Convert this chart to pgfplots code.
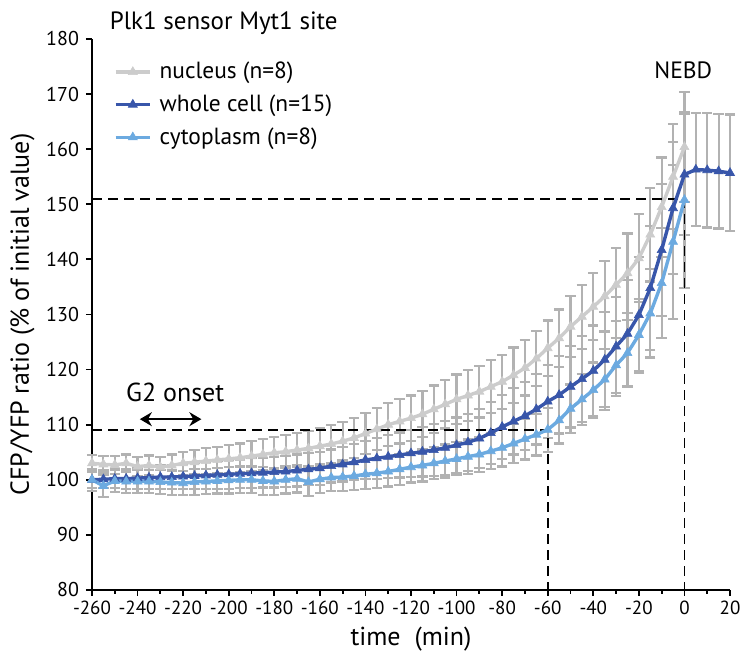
\documentclass[border=0pt]{standalone}
\usepackage{pgfplots}
\pgfplotsset{compat=1.18}
\usepackage{pgfplotstable}
\usepackage{fontspec}
\setmainfont{PT Sans}
\usetikzlibrary{arrows.meta}
\definecolor{nuc}{RGB}{204,204,204}
\definecolor{whole}{RGB}{56,86,170}
\definecolor{cyto}{RGB}{108,170,224}
\definecolor{errg}{RGB}{178,178,178}

\pgfplotstableread{
t y e
-260 103.0 1.5
-255 102.8 1.5
-250 102.7 1.6
-245 103.0 1.6
-240 102.4 1.7
-235 102.6 1.8
-230 102.3 1.9
-225 102.6 2.0
-220 103.0 2.1
-215 103.2 2.2
-210 103.4 2.3
-205 103.6 2.4
-200 103.8 2.5
-195 104.0 2.6
-190 104.3 2.7
-185 104.6 2.8
-180 104.9 2.9
-175 105.1 3.0
-170 105.4 3.1
-165 105.7 3.2
-160 106.1 3.3
-155 106.5 3.4
-150 107.0 3.5
-145 107.6 3.6
-140 108.4 3.7
-135 109.2 3.8
-130 110.0 3.9
-125 110.6 4.0
-120 111.2 4.1
-115 111.9 4.2
-110 112.8 4.3
-105 113.7 4.4
-100 114.6 4.5
-95 115.3 4.6
-90 116.0 4.7
-85 116.9 4.8
-80 117.8 4.9
-75 119.0 5.0
-70 120.3 5.0
-65 122.0 5.0
-60 123.9 5.0
-55 125.7 5.2
-50 127.8 5.5
-45 129.6 5.8
-40 131.4 6.1
-35 133.3 6.4
-30 135.4 6.6
-25 137.5 7.2
-20 140.2 8.0
-15 144.5 8.5
-10 149.5 9.0
-5 155.0 9.5
0 160.4 10.0
}\nucleus

\pgfplotstableread{
t y e
-260 100.0 1.5
-255 100.1 1.6
-250 100.2 1.7
-245 100.2 1.8
-240 100.3 1.9
-235 100.4 2.0
-230 100.5 2.1
-225 100.5 2.2
-220 100.6 2.3
-215 100.7 2.4
-210 100.8 2.5
-205 100.9 2.5
-200 101.0 2.6
-195 101.1 2.6
-190 101.2 2.7
-185 101.3 2.7
-180 101.4 2.8
-175 101.5 2.8
-170 101.7 2.9
-165 101.9 2.9
-160 102.1 3.0
-155 102.5 3.0
-150 102.8 3.1
-145 103.2 3.3
-140 103.6 3.5
-135 103.9 3.7
-130 104.2 3.9
-125 104.5 4.1
-120 104.8 4.3
-115 105.1 4.5
-110 105.4 4.7
-105 105.8 4.9
-100 106.3 5.0
-95 106.8 5.2
-90 107.5 5.4
-85 108.5 5.6
-80 109.6 5.8
-75 110.6 6.0
-70 111.6 6.2
-65 112.8 6.4
-60 114.2 6.6
-55 115.4 7.0
-50 116.9 7.4
-45 118.3 7.8
-40 119.8 8.2
-35 121.8 8.6
-30 124.2 9.0
-25 126.5 9.7
-20 129.9 10.5
-15 134.8 11.2
-10 141.7 12.0
-5 149.3 12.0
0 155.4 11.0
5 156.3 10.3
10 156.2 10.4
15 156.0 10.4
20 155.7 10.6
}\whole

\pgfplotstableread{
t y e
-260 100.0 2.0
-255 98.9 2.0
-250 99.8 2.0
-245 99.7 2.1
-240 99.7 2.1
-235 99.7 2.1
-230 99.6 2.2
-225 99.5 2.2
-220 99.4 2.2
-215 99.6 2.3
-210 99.7 2.3
-205 99.8 2.3
-200 99.9 2.4
-195 100.0 2.4
-190 100.0 2.4
-185 99.8 2.5
-180 99.7 2.5
-175 100.0 2.5
-170 100.2 2.5
-165 99.6 2.5
-160 100.1 2.5
-155 100.4 2.5
-150 100.5 2.5
-145 100.7 2.6
-140 101.0 2.6
-135 101.2 2.7
-130 101.5 2.7
-125 101.9 2.8
-120 102.3 2.8
-115 102.6 2.9
-110 103.0 2.9
-105 103.4 3.0
-100 103.8 3.0
-95 104.2 3.1
-90 104.6 3.2
-85 105.2 3.3
-80 105.8 3.4
-75 106.6 3.5
-70 107.4 3.7
-65 108.2 3.8
-60 109.1 4.0
-55 110.8 4.2
-50 112.9 4.4
-45 114.6 4.6
-40 116.3 5.0
-35 118.2 5.5
-30 120.8 5.0
-25 123.0 6.0
-20 126.3 6.5
-15 130.2 8.0
-10 135.7 10.0
-5 143.2 14.0
0 150.8 16.0
}\cyto

\begin{document}
\begin{tikzpicture}
\begin{axis}[
  scale only axis,
  width=319pt, height=275.5pt,
  xmin=-260, xmax=20, ymin=80, ymax=180,
  xtick={-260,-240,...,20},
  ytick={80,90,...,180},
  minor x tick num=1,
  axis x line*=bottom, axis y line*=left,
  xtick pos=lower, ytick pos=lower,
  tick align=outside,
  major tick length=3pt, minor tick length=2pt,
  every tick/.style={black, line width=0.9pt},
  axis line style={black, line width=0.9pt},
  /pgf/number format/assume math mode=true,
  x tick label style={font=\fontsize{9.5}{10}\selectfont, yshift=1pt},
  y tick label style={font=\fontsize{10}{12}\selectfont},
  xlabel={time\ \ (min)},
  ylabel={CFP/YFP ratio (\% of initial value)},
  label style={font=\fontsize{13}{15}\selectfont},
  xlabel style={yshift=1pt},
  ylabel style={yshift=-1pt},
  clip=false,
  legend style={draw=none, fill=none, at={(axis cs:-250.5,176.6)}, anchor=north west,
    font=\fontsize{11.7}{13}\selectfont, row sep=2.5pt, inner sep=0pt,
    nodes={inner xsep=4pt}},
  legend cell align=left,
]
% error bars first (below the lines)
\addplot[forget plot, draw=none, mark=none,
  error bars/.cd, y dir=both, y explicit,
  error bar style={draw=errg, line width=1.1pt},
  error mark options={rotate=90, mark size=2.6pt, draw=errg, line width=1.1pt}]
  table[x=t, y=y, y error=e] {\nucleus};
\addplot[forget plot, draw=none, mark=none,
  error bars/.cd, y dir=both, y explicit,
  error bar style={draw=errg, line width=1.1pt},
  error mark options={rotate=90, mark size=2.6pt, draw=errg, line width=1.1pt}]
  table[x=t, y=y, y error=e] {\whole};
\addplot[forget plot, draw=none, mark=none,
  error bars/.cd, y dir=both, y explicit,
  error bar style={draw=errg, line width=1.1pt},
  error mark options={rotate=90, mark size=2.6pt, draw=errg, line width=1.1pt}]
  table[x=t, y=y, y error=e] {\cyto};
% dashed guide lines
\addplot[forget plot, black, line width=0.9pt, dash pattern=on 5pt off 3pt, mark=none]
  coordinates {(-260,109) (-60,109) (-60,80)};
\addplot[forget plot, black, line width=0.9pt, dash pattern=on 5pt off 3pt, mark=none]
  coordinates {(-260,151) (0,151) (0,80)};
% series
\addplot[nuc, line width=1.7pt, mark=triangle*, mark size=2.6pt,
  mark options={solid, fill=nuc, draw=nuc, line width=0.3pt}]
  table[x=t, y=y] {\nucleus};
\addlegendentry{nucleus (n=8)}
\addplot[whole, line width=1.7pt, mark=triangle*, mark size=2.6pt,
  mark options={solid, fill=whole, draw=whole, line width=0.3pt}]
  table[x=t, y=y] {\whole};
\addlegendentry{whole cell (n=15)}
\addplot[cyto, line width=1.7pt, mark=triangle*, mark size=2.6pt,
  mark options={solid, fill=cyto, draw=cyto, line width=0.3pt}]
  table[x=t, y=y] {\cyto};
\addlegendentry{cytoplasm (n=8)}
% annotations
\node[anchor=base west, font=\fontsize{12.5}{14}\selectfont] at (axis cs:-255.3,181.7) {Plk1 sensor Myt1 site};
\node[font=\fontsize{11.8}{13}\selectfont] at (axis cs:-0.5,174.4) {NEBD};
\node[font=\fontsize{13}{15}\selectfont] at (axis cs:-223.5,115.8) {G2 onset};
\draw[{Stealth[length=6pt,width=7pt]}-{Stealth[length=6pt,width=7pt]}, line width=0.9pt] (axis cs:-239,111) -- (axis cs:-212,111);
\end{axis}
\pgfresetboundingbox
\path[use as bounding box] (current axis.south west) ++(-46pt,-33pt) rectangle ++(371pt,328pt);
\end{tikzpicture}
\end{document}
